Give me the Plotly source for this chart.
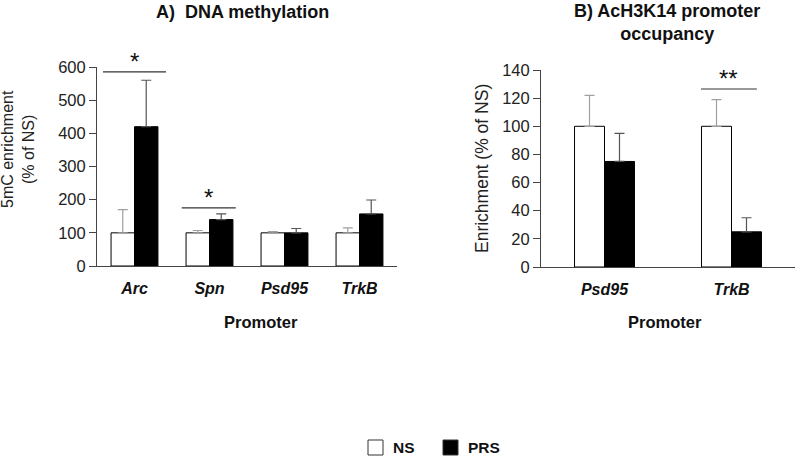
import plotly.graph_objects as go

W, H = 800, 457

# ---- data ----
promoters_a = ["Arc", "Spn", "Psd95", "TrkB"]
ns_a = [100, 100, 100, 100]
ns_a_err = [70, 7, 4, 15]
prs_a = [420, 140, 100, 157]
prs_a_err = [140, 17, 13, 42]
sig_a_labels = ["*", "*"]
sig_a_levels = [585, 175]

promoters_b = ["Psd95", "TrkB"]
ns_b = [100, 100]
ns_b_err = [22, 19]
prs_b = [75, 25]
prs_b_err = [20, 10]
sig_b_labels = ["**"]
sig_b_levels = [126.5]

groups = ["NS", "PRS"]

FONT = "Liberation Sans, Arial, sans-serif"


def px_x(p):
    return p / W


def px_y(p):
    return 1 - p / H


fig = go.Figure()

NS_STYLE = dict(color="white", line=dict(color="black", width=1))
PRS_STYLE = dict(color="black", line=dict(color="black", width=1))


def err(arr, color):
    return dict(type="data", symmetric=False, array=arr, arrayminus=[0] * len(arr),
                color=color, thickness=1.2, width=5)


fig.add_trace(go.Bar(x=promoters_a, y=ns_a, name=groups[0], xaxis="x", yaxis="y",
                     marker=NS_STYLE, error_y=err(ns_a_err, "#a0a0a0"), showlegend=False,
                     width=0.3125, offset=-0.3125))
fig.add_trace(go.Bar(x=promoters_a, y=prs_a, name=groups[1], xaxis="x", yaxis="y",
                     marker=PRS_STYLE, error_y=err(prs_a_err, "#555555"), showlegend=False,
                     width=0.3125, offset=0.0))
fig.add_trace(go.Bar(x=promoters_b, y=ns_b, name=groups[0], xaxis="x2", yaxis="y2",
                     marker=NS_STYLE, error_y=err(ns_b_err, "#a0a0a0"), showlegend=False,
                     width=0.236, offset=-0.236))
fig.add_trace(go.Bar(x=promoters_b, y=prs_b, name=groups[1], xaxis="x2", yaxis="y2",
                     marker=PRS_STYLE, error_y=err(prs_b_err, "#555555"), showlegend=False,
                     width=0.236, offset=0.0))

tickfont = dict(family=FONT, size=16.5, color="#222")
xtickfont = dict(family=FONT, size=16, color="#111")

common_x = dict(type="category", ticks="", showline=True, linecolor="#444", linewidth=1,
                showgrid=False, zeroline=False, automargin=False, tickfont=xtickfont,
                ticklabelstandoff=8)
common_y = dict(ticks="outside", ticklen=7, tickcolor="#444", showline=True,
                linecolor="#444", linewidth=1, showgrid=False, zeroline=False,
                automargin=False, tickfont=tickfont)

fig.update_layout(
    width=W, height=H, margin=dict(l=0, r=0, t=0, b=0),
    paper_bgcolor="white", plot_bgcolor="white",
    barmode="group", bargroupgap=0,
    font=dict(family=FONT, color="#111"),
    showlegend=False,
    xaxis=dict(domain=[px_x(97), px_x(397)], anchor="y",
               categoryorder="array", categoryarray=promoters_a,
               range=[-0.5, len(promoters_a) - 0.5],
               tickvals=promoters_a, ticktext=[f"<b><i>{c}</i></b>" for c in promoters_a],
               **common_x),
    yaxis=dict(domain=[px_y(266), px_y(67)], anchor="x", range=[0, 600],
               tickvals=[0, 100, 200, 300, 400, 500, 600], **common_y),
    xaxis2=dict(domain=[px_x(541), px_x(795)], anchor="y2",
                categoryorder="array", categoryarray=promoters_b,
                range=[-0.5, len(promoters_b) - 0.5],
                tickvals=promoters_b, ticktext=[f"<b><i>{c}</i></b>" for c in promoters_b],
                **common_x),
    yaxis2=dict(domain=[px_y(267), px_y(70)], anchor="x2", range=[0, 140],
                tickvals=list(range(0, 141, 20)), **common_y),
)

# Significance bars (category-offset coordinates)
sig_a_spans = [(0 - 0.42, 0 + 0.42), (1 - 0.37, 1 + 0.35)]
for (x0, x1), lvl, lab in zip(sig_a_spans, sig_a_levels, sig_a_labels):
    fig.add_shape(type="line", xref="x", yref="y", x0=x0, x1=x1, y0=lvl, y1=lvl,
                  line=dict(color="#333", width=1.2))
    fig.add_annotation(xref="x", yref="y", x=(x0 + x1) / 2, y=lvl, text=lab,
                       showarrow=False, yanchor="bottom", yshift=-5,
                       font=dict(family=FONT, size=24, color="#111"))

sig_b_spans = [(1 - 0.24, 1 + 0.20)]
for (x0, x1), lvl, lab in zip(sig_b_spans, sig_b_levels, sig_b_labels):
    fig.add_shape(type="line", xref="x2", yref="y2", x0=x0, x1=x1, y0=lvl, y1=lvl,
                  line=dict(color="#333", width=1.2))
    fig.add_annotation(xref="x2", yref="y2", x=(x0 + x1) / 2, y=lvl, text=lab,
                       showarrow=False, yanchor="bottom", yshift=-5,
                       font=dict(family=FONT, size=24, color="#111"))

# Titles
fig.add_annotation(xref="paper", yref="paper", x=px_x(242.5), y=px_y(12), text="<b>A)  DNA methylation</b>",
                   showarrow=False, xanchor="center", yanchor="middle",
                   font=dict(family=FONT, size=18, color="#111"))
fig.add_annotation(xref="paper", yref="paper", x=px_x(667), y=px_y(22),
                   text="<b>B) AcH3K14 promoter<br>occupancy</b>",
                   showarrow=False, xanchor="center", yanchor="middle",
                   font=dict(family=FONT, size=18, color="#111"))
# X-axis titles
fig.add_annotation(xref="paper", yref="paper", x=px_x(261), y=px_y(322), text="<b>Promoter</b>",
                   showarrow=False, xanchor="center", yanchor="middle",
                   font=dict(family=FONT, size=16.5, color="#111"))
fig.add_annotation(xref="paper", yref="paper", x=px_x(665), y=px_y(322), text="<b>Promoter</b>",
                   showarrow=False, xanchor="center", yanchor="middle",
                   font=dict(family=FONT, size=16.5, color="#111"))
# Y-axis titles
fig.add_annotation(xref="paper", yref="paper", x=px_x(18), y=px_y(149),
                   text="5mC enrichment<br>(% of NS)", textangle=-90,
                   showarrow=False, xanchor="center", yanchor="middle", borderpad=0,
                   font=dict(family=FONT, size=16, color="#222"))
fig.add_annotation(xref="paper", yref="paper", x=px_x(482), y=px_y(169),
                   text="Enrichment (% of NS)", textangle=-90,
                   showarrow=False, xanchor="center", yanchor="middle",
                   font=dict(family=FONT, size=17.5, color="#222"))

# Legend (manual)
legend_boxes = [(368, "white"), (443, "black")]
for (bx, fill), label in zip(legend_boxes, groups):
    fig.add_shape(type="rect", xref="paper", yref="paper",
                  x0=px_x(bx), x1=px_x(bx + 15), y0=px_y(455), y1=px_y(440),
                  fillcolor=fill, line=dict(color="#333", width=1))
    fig.add_annotation(xref="paper", yref="paper", x=px_x(bx + 23), y=px_y(447.5),
                       text=f"<b>{label}</b>", showarrow=False, xanchor="left",
                       yanchor="middle", font=dict(family=FONT, size=15.5, color="#111"))

# remove the browser's default 8px body margin so the figure fills the window
fig.write_html("out.html", config={"displayModeBar": False},
               post_script="document.body.style.margin='0';document.body.style.overflow='hidden';")
